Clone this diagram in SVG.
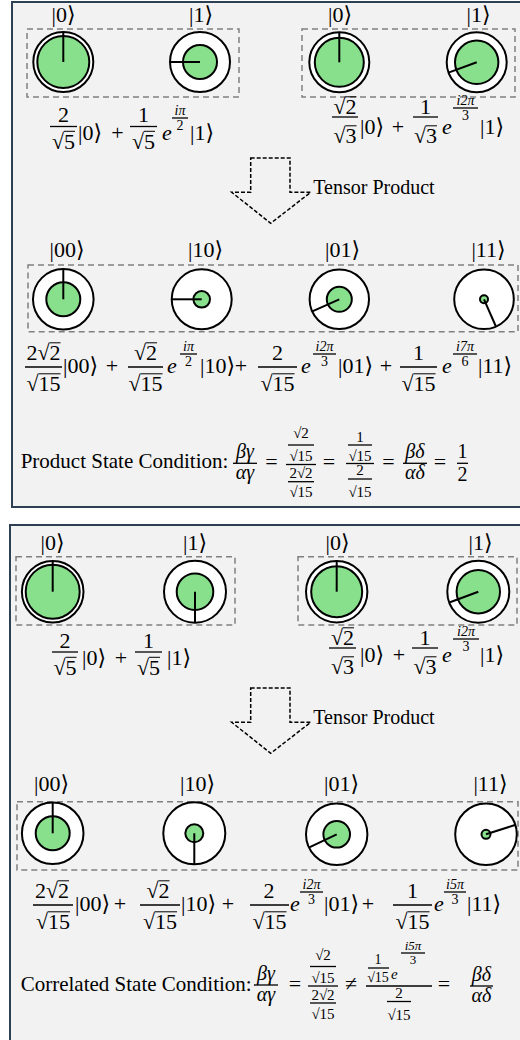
<svg xmlns="http://www.w3.org/2000/svg" width="520" height="1040" viewBox="0 0 520 1040">
<style>
.f{font-family:"Liberation Serif","DejaVu Serif",serif;fill:#000}
.m{font-size:22px}
.k{font-size:22px}
.g{font-size:20px}
.tp{font-size:20px}
.i{font-style:italic}
.s{font-size:14px}
.ss{font-size:13px}
.x{font-size:15px}
.t{font-size:21px}
.c{text-anchor:middle}
.bar{stroke:#000;stroke-width:1.3}
.vin{stroke:#000;stroke-width:1}
.dash{fill:none;stroke:#808080;stroke-width:1.5;stroke-dasharray:6 4}
.ring{fill:#fff;stroke:#000;stroke-width:2}
.amp{fill:#88e08c;stroke:#000;stroke-width:2}
.ph{stroke:#000;stroke-width:2}
.frame{fill:#f2f2f2;stroke:#2e4053;stroke-width:2}
.arrow{fill:none;stroke:#000;stroke-width:1.5;stroke-dasharray:4 2}
</style>
<rect x="0" y="0" width="520" height="1040" fill="#fff"/>
<!-- ================= TOP PANEL ================= -->
<g id="panel-top">
<rect class="frame" x="12" y="2" width="520" height="505"/>
<rect class="dash" x="27" y="29" width="212" height="68"/>
<rect class="dash" x="302" y="29" width="213" height="68"/>
<rect class="dash" x="28" y="265" width="490" height="66.7"/>
</g>
<g id="top-q1-0">
<text class="f k c" x="63.5" y="22">|0⟩</text>
<circle class="ring" cx="63.3" cy="62" r="30"/><circle class="amp" cx="63.3" cy="62" r="26"/>
<line class="ph" x1="63.3" y1="62" x2="63.3" y2="32"/>
</g>
<g id="top-q1-1">
<text class="f k c" x="201" y="22">|1⟩</text>
<circle class="ring" cx="200" cy="62" r="30"/><circle class="amp" cx="200" cy="62" r="17"/>
<line class="ph" x1="200" y1="62" x2="170" y2="62"/>
</g>
<g id="top-q2-0">
<text class="f k c" x="340" y="22">|0⟩</text>
<circle class="ring" cx="339.3" cy="62.3" r="30"/><circle class="amp" cx="339.3" cy="62.3" r="24.5"/>
<line class="ph" x1="339.3" y1="62.3" x2="339.3" y2="32.3"/>
</g>
<g id="top-q2-1">
<text class="f k c" x="478.5" y="22">|1⟩</text>
<circle class="ring" cx="476.7" cy="62.3" r="30"/><circle class="amp" cx="476.7" cy="62.3" r="21.7"/>
<line class="ph" x1="476.7" y1="62.3" x2="448.5" y2="72.6"/>
</g>
<g id="top-eq1">
<text class="f m c" x="63.5" y="122">2</text><line class="bar" x1="50" y1="126.5" x2="77" y2="126.5"/>
<text class="f m" x="51.95" y="148.5">√5</text><line class="vin" x1="64" y1="131.3" x2="75" y2="131.3"/>
<text class="f m" x="78" y="140">|0⟩</text>
<text class="f m c" x="117.5" y="140">+</text>
<text class="f m c" x="143.5" y="122">1</text><line class="bar" x1="130" y1="126.5" x2="157" y2="126.5"/>
<text class="f m" x="131.95" y="148.5">√5</text><line class="vin" x1="144" y1="131.3" x2="155" y2="131.3"/>
<text class="f m i" x="162" y="140">e</text>
<text class="f s i c" x="180" y="115">iπ</text><line class="bar" x1="172" y1="118" x2="188" y2="118"/><text class="f s c" x="180" y="130">2</text>
<text class="f m" x="190" y="140">|1⟩</text>
</g>
<g id="top-eq2">
<text class="f m" x="333.45" y="114">√2</text><line class="vin" x1="345.5" y1="96.8" x2="356.5" y2="96.8"/>
<line class="bar" x1="332" y1="117" x2="358" y2="117"/>
<text class="f m" x="333.45" y="143">√3</text><line class="vin" x1="345.5" y1="125.8" x2="356.5" y2="125.8"/>
<text class="f m" x="360" y="134">|0⟩</text>
<text class="f m c" x="398" y="134">+</text>
<text class="f m c" x="425.5" y="114">1</text><line class="bar" x1="413" y1="117" x2="438" y2="117"/>
<text class="f m" x="413.95" y="143">√3</text><line class="vin" x1="426" y1="125.8" x2="437" y2="125.8"/>
<text class="f m i" x="442" y="134">e</text>
<text class="f s i c" x="465.5" y="105">i2π</text><line class="bar" x1="453" y1="108" x2="478" y2="108"/><text class="f s c" x="465.5" y="120">3</text>
<text class="f m" x="480" y="134">|1⟩</text>
</g>
<text class="f tp" x="313.3" y="194.3">Tensor Product</text>
<g id="top-q00">
<text class="f k c" x="67" y="257">|00⟩</text>
<circle class="ring" cx="63.3" cy="299.3" r="30.3"/><circle class="amp" cx="63.3" cy="299.3" r="17"/>
<line class="ph" x1="63.3" y1="299.3" x2="63.3" y2="269"/>
</g>
<g id="top-q10">
<text class="f k c" x="205.5" y="257">|10⟩</text>
<circle class="ring" cx="201.7" cy="299.3" r="30"/><circle class="amp" cx="201.7" cy="299.3" r="8.3"/>
<line class="ph" x1="201.7" y1="299.3" x2="171.7" y2="299.3"/>
</g>
<g id="top-q01">
<text class="f k c" x="342.5" y="257">|01⟩</text>
<circle class="ring" cx="339.3" cy="299.3" r="29.7"/><circle class="amp" cx="339.3" cy="299.3" r="12.5"/>
<line class="ph" x1="339.3" y1="299.3" x2="311.7" y2="311.7"/>
</g>
<g id="top-q11">
<text class="f k c" x="488.5" y="257">|11⟩</text>
<circle class="ring" cx="484" cy="299.3" r="29.8"/><circle class="amp" cx="484" cy="299.3" r="4"/>
<line class="ph" x1="484" y1="299.3" x2="495.7" y2="326"/>
</g>
<g id="top-eq3">
<text class="f m" x="26.46" y="360">2√2</text><line class="vin" x1="49.54" y1="342.8" x2="60.54" y2="342.8"/>
<line class="bar" x1="25" y1="367" x2="62" y2="367"/>
<text class="f m" x="26.46" y="391">√15</text><line class="vin" x1="38.54" y1="373.8" x2="60.54" y2="373.8"/>
<text class="f m" x="63" y="373">|00⟩</text>
<text class="f m c" x="112" y="373">+</text>
<text class="f m" x="133.96" y="360">√2</text><line class="vin" x1="146.04" y1="342.8" x2="157.04" y2="342.8"/>
<line class="bar" x1="128" y1="367" x2="163" y2="367"/>
<text class="f m" x="128.46" y="391">√15</text><line class="vin" x1="140.54" y1="373.8" x2="162.54" y2="373.8"/>
<text class="f m i" x="167" y="373">e</text>
<text class="f s i c" x="188.5" y="351">iπ</text><line class="bar" x1="180" y1="354" x2="197" y2="354"/><text class="f s c" x="188.5" y="366">2</text>
<text class="f m" x="200" y="373">|10⟩</text>
<text class="f m c" x="241" y="373">+</text>
<text class="f m c" x="277.5" y="360">2</text>
<line class="bar" x1="258" y1="367" x2="297" y2="367"/>
<text class="f m" x="260.46" y="391">√15</text><line class="vin" x1="272.54" y1="373.8" x2="294.54" y2="373.8"/>
<text class="f m i" x="301" y="373">e</text>
<text class="f s i c" x="324.5" y="351">i2π</text><line class="bar" x1="313" y1="354" x2="336" y2="354"/><text class="f s c" x="324.5" y="366">3</text>
<text class="f m" x="338" y="373">|01⟩</text>
<text class="f m c" x="386" y="373">+</text>
<text class="f m c" x="418.5" y="360">1</text>
<line class="bar" x1="400" y1="367" x2="437" y2="367"/>
<text class="f m" x="401.46" y="391">√15</text><line class="vin" x1="413.54" y1="373.8" x2="435.54" y2="373.8"/>
<text class="f m i" x="442" y="373">e</text>
<text class="f s i c" x="465" y="351">i7π</text><line class="bar" x1="453" y1="354" x2="477" y2="354"/><text class="f s c" x="465" y="366">6</text>
<text class="f m" x="478" y="373">|11⟩</text>
</g>
<g id="top-condition">
<text class="f t" x="20.7" y="468">Product State Condition:</text>
<text class="f g i c" x="245" y="458">βγ</text><line class="bar" x1="233" y1="463.3" x2="257" y2="463.3"/><text class="f g i c" x="245" y="479">αγ</text>
<text class="f m c" x="271.5" y="469">=</text>
<text class="f x c" x="301" y="438">√2</text><line class="bar" x1="288" y1="445" x2="314" y2="445"/><text class="f x c" x="301" y="461">√15</text>
<line class="bar" x1="286" y1="464.5" x2="316" y2="464.5"/>
<text class="f x c" x="301" y="478">2√2</text><line class="bar" x1="288" y1="481.7" x2="314" y2="481.7"/><text class="f x c" x="301" y="497">√15</text>
<text class="f m c" x="329" y="469">=</text>
<text class="f x c" x="360" y="442">1</text><line class="bar" x1="348" y1="445" x2="372" y2="445"/><text class="f x c" x="360" y="461">√15</text>
<line class="bar" x1="346" y1="463.5" x2="374" y2="463.5"/>
<text class="f x c" x="360" y="475">2</text><line class="bar" x1="348" y1="479" x2="372" y2="479"/><text class="f x c" x="360" y="497">√15</text>
<text class="f m c" x="388.5" y="469">=</text>
<text class="f g i c" x="415" y="458">βδ</text><line class="bar" x1="403" y1="463.3" x2="427" y2="463.3"/><text class="f g i c" x="415" y="479">αδ</text>
<text class="f m c" x="440" y="469">=</text>
<text class="f g c" x="462.5" y="458">1</text><line class="bar" x1="457" y1="463.3" x2="468" y2="463.3"/><text class="f g c" x="462.5" y="481">2</text>
</g>
<!-- ================= BOTTOM PANEL ================= -->
<g id="panel-bottom">
<rect class="frame" x="10" y="525" width="520" height="520"/>
<rect class="dash" x="16" y="556.7" width="219" height="68.3"/>
<rect class="dash" x="298" y="556.7" width="219" height="68.3"/>
<rect class="dash" x="17" y="801.7" width="501" height="68.3"/>
</g>
<g id="bot-q1-0">
<text class="f k c" x="52.5" y="550">|0⟩</text>
<circle class="ring" cx="52.7" cy="591.7" r="30.8"/><circle class="amp" cx="52.7" cy="591.7" r="27"/>
<line class="ph" x1="52.7" y1="591.7" x2="52.7" y2="561"/>
</g>
<g id="bot-q1-1">
<text class="f k c" x="195" y="550">|1⟩</text>
<circle class="ring" cx="195" cy="591.7" r="31"/><circle class="amp" cx="195" cy="591.7" r="18.3"/>
<line class="ph" x1="195" y1="591.7" x2="195" y2="622.7"/>
</g>
<g id="bot-q2-0">
<text class="f k c" x="337.5" y="550">|0⟩</text>
<circle class="ring" cx="336.7" cy="591.7" r="30.7"/><circle class="amp" cx="336.7" cy="591.7" r="25.5"/>
<line class="ph" x1="336.7" y1="591.7" x2="336.7" y2="561"/>
</g>
<g id="bot-q2-1">
<text class="f k c" x="480.5" y="550">|1⟩</text>
<circle class="ring" cx="478.3" cy="591.7" r="31"/><circle class="amp" cx="478.3" cy="591.7" r="21.7"/>
<line class="ph" x1="478.3" y1="591.7" x2="450" y2="602.3"/>
</g>
<g id="bot-eq1">
<text class="f m c" x="65" y="648">2</text><line class="bar" x1="52" y1="652" x2="78" y2="652"/>
<text class="f m" x="53.45" y="674.5">√5</text><line class="vin" x1="65.5" y1="657.3" x2="76.5" y2="657.3"/>
<text class="f m" x="82" y="665">|0⟩</text>
<text class="f m c" x="121" y="665">+</text>
<text class="f m c" x="148.5" y="648">1</text><line class="bar" x1="135" y1="652" x2="162" y2="652"/>
<text class="f m" x="136.95" y="674.5">√5</text><line class="vin" x1="149" y1="657.3" x2="160" y2="657.3"/>
<text class="f m" x="167" y="665">|1⟩</text>
</g>
<g id="bot-eq2">
<text class="f m" x="330.95" y="645">√2</text><line class="vin" x1="343" y1="627.8" x2="354" y2="627.8"/>
<line class="bar" x1="329" y1="648" x2="356" y2="648"/>
<text class="f m" x="330.95" y="674">√3</text><line class="vin" x1="343" y1="656.8" x2="354" y2="656.8"/>
<text class="f m" x="360" y="662">|0⟩</text>
<text class="f m c" x="399" y="662">+</text>
<text class="f m c" x="425" y="645">1</text><line class="bar" x1="412" y1="648" x2="438" y2="648"/>
<text class="f m" x="413.45" y="674">√3</text><line class="vin" x1="425.5" y1="656.8" x2="436.5" y2="656.8"/>
<text class="f m i" x="442" y="662">e</text>
<text class="f s i c" x="466" y="636">i2π</text><line class="bar" x1="453" y1="639" x2="479" y2="639"/><text class="f s c" x="466" y="651">3</text>
<text class="f m" x="480" y="662">|1⟩</text>
</g>
<text class="f tp" x="313.3" y="724.3">Tensor Product</text>
<g id="bot-q00">
<text class="f k c" x="51.5" y="791">|00⟩</text>
<circle class="ring" cx="52.7" cy="833.3" r="30.8"/><circle class="amp" cx="52.7" cy="833.3" r="17"/>
<line class="ph" x1="52.7" y1="833.3" x2="52.7" y2="802.5"/>
</g>
<g id="bot-q10">
<text class="f k c" x="197.5" y="791">|10⟩</text>
<circle class="ring" cx="194.3" cy="833.3" r="31"/><circle class="amp" cx="194.3" cy="833.3" r="9"/>
<line class="ph" x1="194.3" y1="833.3" x2="194.3" y2="864.3"/>
</g>
<g id="bot-q01">
<text class="f k c" x="341.5" y="791">|01⟩</text>
<circle class="ring" cx="336.7" cy="834.3" r="30.7"/><circle class="amp" cx="336.7" cy="834.3" r="13.3"/>
<line class="ph" x1="336.7" y1="834.3" x2="309.3" y2="847.3"/>
</g>
<g id="bot-q11">
<text class="f k c" x="490.5" y="791">|11⟩</text>
<circle class="ring" cx="486" cy="834.3" r="30.8"/><circle class="amp" cx="486" cy="834.3" r="4.5"/>
<line class="ph" x1="486" y1="834.3" x2="515" y2="825"/>
</g>
<g id="bot-eq3">
<text class="f m" x="34.96" y="898">2√2</text><line class="vin" x1="58.04" y1="880.8" x2="69.04" y2="880.8"/>
<line class="bar" x1="33" y1="905" x2="73" y2="905"/>
<text class="f m" x="35.96" y="929">√15</text><line class="vin" x1="48.04" y1="911.8" x2="70.04" y2="911.8"/>
<text class="f m" x="75" y="911">|00⟩</text>
<text class="f m c" x="120" y="911">+</text>
<text class="f m" x="146.46" y="898">√2</text><line class="vin" x1="158.54" y1="880.8" x2="169.54" y2="880.8"/>
<line class="bar" x1="140" y1="905" x2="180" y2="905"/>
<text class="f m" x="142.96" y="929">√15</text><line class="vin" x1="155.04" y1="911.8" x2="177.04" y2="911.8"/>
<text class="f m" x="181" y="911">|10⟩</text>
<text class="f m c" x="228" y="911">+</text>
<text class="f m c" x="269" y="898">2</text>
<line class="bar" x1="250" y1="905" x2="289" y2="905"/>
<text class="f m" x="252.46" y="929">√15</text><line class="vin" x1="264.54" y1="911.8" x2="286.54" y2="911.8"/>
<text class="f m i" x="290" y="911">e</text>
<text class="f s i c" x="311.5" y="889">i2π</text><line class="bar" x1="300" y1="892" x2="323" y2="892"/><text class="f s c" x="311.5" y="904">3</text>
<text class="f m" x="324" y="911">|01⟩</text>
<text class="f m c" x="368" y="911">+</text>
<text class="f m c" x="412.5" y="898">1</text>
<line class="bar" x1="393" y1="905" x2="432" y2="905"/>
<text class="f m" x="395.46" y="929">√15</text><line class="vin" x1="407.54" y1="911.8" x2="429.54" y2="911.8"/>
<text class="f m i" x="434" y="911">e</text>
<text class="f s i c" x="455" y="889">i5π</text><line class="bar" x1="444" y1="892" x2="466" y2="892"/><text class="f s c" x="455" y="904">3</text>
<text class="f m" x="467" y="911">|11⟩</text>
</g>
<g id="bot-condition" transform="translate(0,20)">
<text class="f t" x="20.7" y="971">Correlated State Condition:</text>
<text class="f g i c" x="266" y="960">βγ</text><line class="bar" x1="254" y1="965" x2="278" y2="965"/><text class="f g i c" x="266" y="981">αγ</text>
<text class="f m c" x="295" y="971">=</text>
<text class="f x c" x="323" y="939.5">√2</text><line class="bar" x1="310" y1="946.5" x2="336" y2="946.5"/><text class="f x c" x="323" y="962.5">√15</text>
<line class="bar" x1="308" y1="966" x2="338" y2="966"/>
<text class="f x c" x="323" y="979.5">2√2</text><line class="bar" x1="310" y1="983" x2="336" y2="983"/><text class="f x c" x="323" y="998.5">√15</text>
<text class="f m c" x="351" y="971">≠</text>
<text class="f s c" x="378" y="944">1</text><line class="bar" x1="368" y1="948" x2="389" y2="948"/><text class="f s c" x="378" y="962">√15</text>
<text class="f x i" x="391" y="959">e</text>
<text class="f ss i c" x="413" y="930">i5π</text><line class="bar" x1="401" y1="933" x2="425" y2="933"/><text class="f ss c" x="413" y="944">3</text>
<line class="bar" x1="366" y1="966" x2="432" y2="966"/>
<text class="f x c" x="399" y="977.5">2</text><line class="bar" x1="387" y1="981.5" x2="411" y2="981.5"/><text class="f x c" x="399" y="999.5">√15</text>
<text class="f m c" x="444" y="971">=</text>
<text class="f g i c" x="481.5" y="961">βδ</text><line class="bar" x1="470" y1="966" x2="493" y2="966"/><text class="f g i c" x="481.5" y="982">αδ</text>
</g>
<g id="connectors">
<polygon class="arrow" points="250.7,158 290,158 290,192.3 310.7,192.3 270.7,223.3 231.7,192.3 250.7,192.3"/>
<polygon class="arrow" points="250.7,688 290,688 290,722.3 310.7,722.3 270.7,753.3 231.7,722.3 250.7,722.3"/>
</g>
</svg>
